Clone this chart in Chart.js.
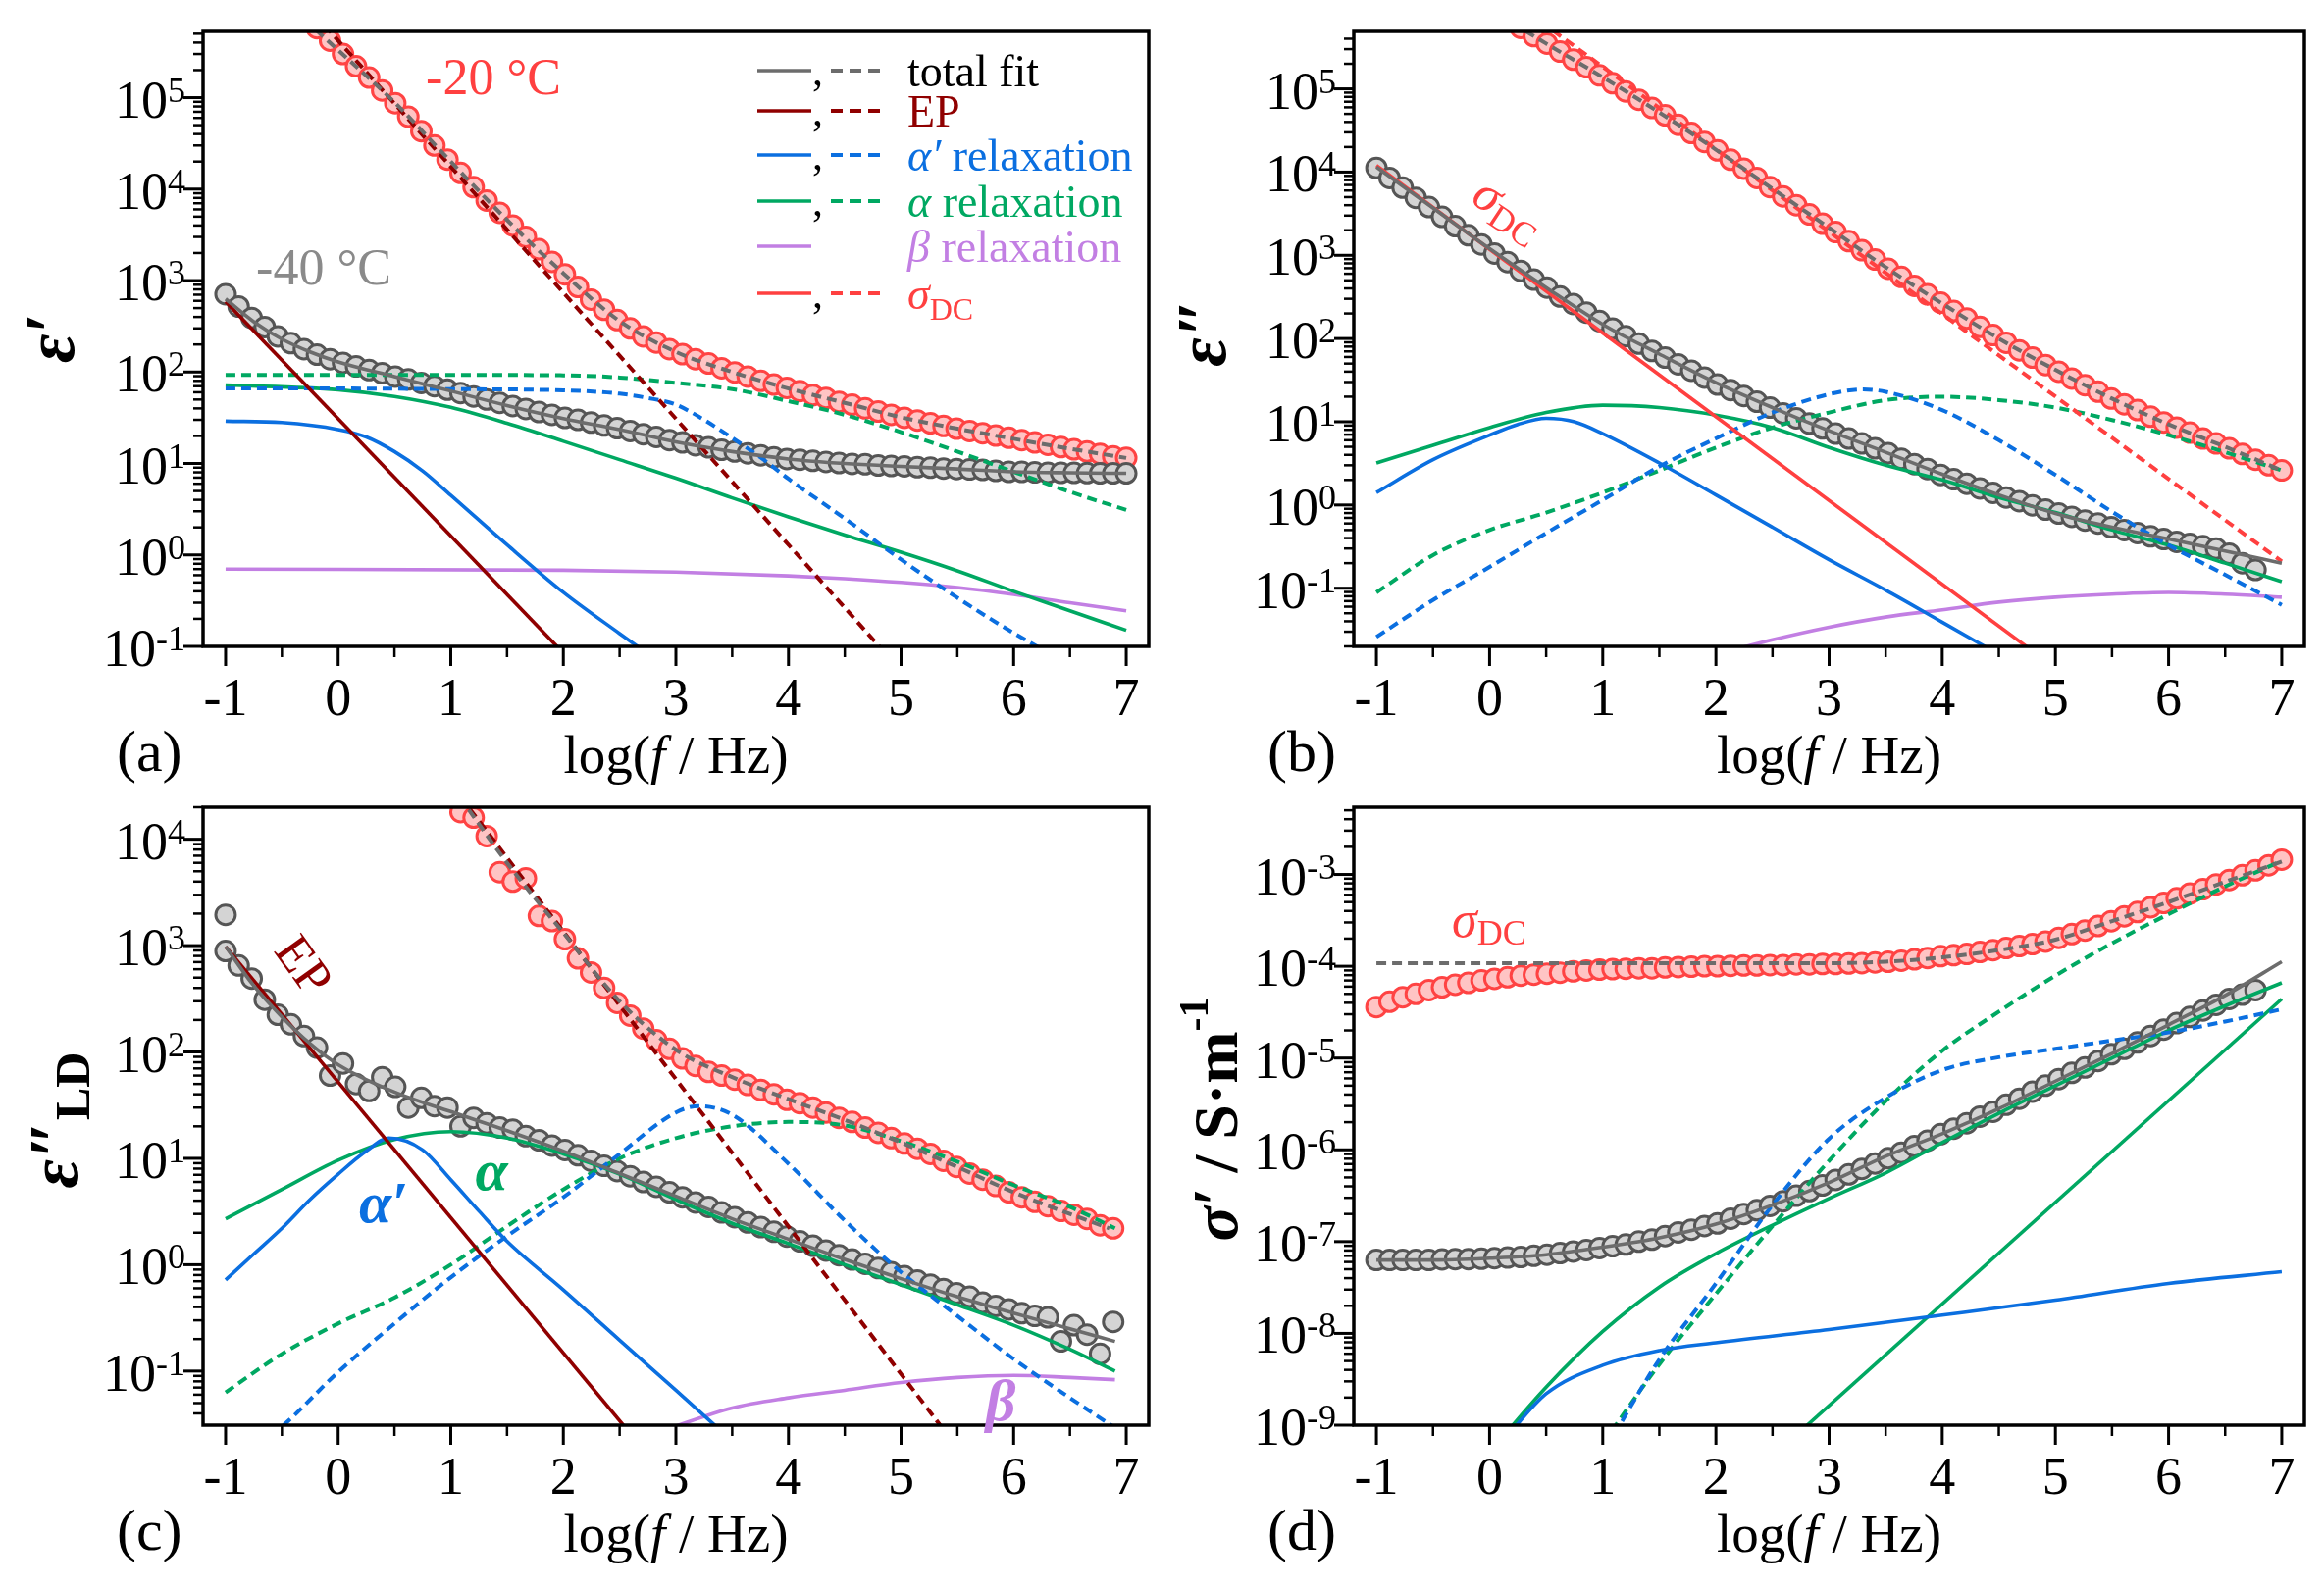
<!DOCTYPE html>
<html>
<head>
<meta charset="utf-8">
<script src="https://cdn.jsdelivr.net/npm/chart.js@4.4.1/dist/chart.umd.min.js"></script>
<style>
  body { margin: 0; background: #fff; width: 2369px; height: 1619px; position: relative; overflow: hidden; }
  canvas { position: absolute; }
</style>
</head>
<body>
<canvas id="pa"></canvas>
<canvas id="pb"></canvas>
<canvas id="pc"></canvas>
<canvas id="pd"></canvas>
<script>
const N = null;

// measured frequency grid, log(f / Hz)
const logF = [-1, -0.884, -0.768, -0.652, -0.536, -0.42, -0.304, -0.188, -0.072, 0.043,
  0.159, 0.275, 0.391, 0.507, 0.623, 0.739, 0.855, 0.971, 1.087, 1.203,
  1.319, 1.435, 1.551, 1.667, 1.783, 1.899, 2.014, 2.13, 2.246, 2.362,
  2.478, 2.594, 2.71, 2.826, 2.942, 3.058, 3.174, 3.29, 3.406, 3.522,
  3.638, 3.754, 3.87, 3.986, 4.101, 4.217, 4.333, 4.449, 4.565, 4.681,
  4.797, 4.913, 5.029, 5.145, 5.261, 5.377, 5.493, 5.609, 5.725, 5.841,
  5.957, 6.072, 6.188, 6.304, 6.42, 6.536, 6.652, 6.768, 6.884, 7];

// (a) eps'  -40 C (grey) and -20 C (red)
const aGray = [710, 520, 390, 310, 245, 207, 178, 155, 138, 126,
  115, 105, 97, 89, 83, 76, 70, 64, 59, 54,
  50, 46, 42.5, 39.5, 36.5, 34, 31.5, 30, 28, 26,
  24.3, 22.6, 20.9, 19.5, 18.0, 17.0, 15.8, 15.0, 14.1, 13.5,
  12.9, 12.3, 11.7, 11.2, 11.0, 10.7, 10.4, 10.1, 9.9, 9.8,
  9.5, 9.4, 9.3, 9.1, 9.0, 8.8, 8.7, 8.6, 8.5, 8.3,
  8.1, 8.1, 8.0, 7.9, 7.9, 7.9, 7.85, 7.8, 7.8, 7.8];
const aRed = [N, N, N, N, N, N, N, 5.75e5, 4.2e5, 3.0e5,
  2.2e5, 1.66e5, 1.2e5, 8.7e4, 6.2e4, 4.3e4, 3.0e4, 2.1e4, 1.5e4, 1.05e4,
  7.5e3, 5.5e3, 4.0e3, 3.0e3, 2.2e3, 1.6e3, 1.17e3, 850, 620, 480,
  370, 300, 245, 210, 178, 157, 138, 124, 110, 99,
  89, 80, 73, 67, 62, 56, 52, 47, 44, 40,
  37, 34, 31.6, 29.5, 27.5, 25.7, 24, 22.6, 21.4, 20.2,
  19.1, 18.0, 17.0, 16.0, 15.1, 14.3, 13.5, 12.7, 12.0, 11.5];
const aFit40 = [[-1, 630], [-0.75, 355], [-0.5, 229], [-0.25, 166], [0, 129], [0.5, 89], [1, 62], [1.5, 43], [2, 31], [2.5, 23.5], [3, 17.2], [3.5, 13.5], [4, 11.2], [4.5, 10], [5, 9.3], [5.5, 8.7], [6, 8.1], [6.5, 7.9], [7, 7.8]];
const aFit20 = [[-0.3, 7.2e5], [0, 3.3e5], [0.5, 8.9e4], [1, 2.0e4], [1.5, 4.6e3], [2, 1.2e3], [2.5, 360], [3, 166], [3.5, 100], [4, 66], [4.5, 46], [5, 32], [5.5, 24], [6, 18.6], [6.5, 14.5], [7, 11.5]];
const aEP40 = [[-1, 590], [2.1, 0.063]];
const aEP20 = [[-0.4, 1.5e6], [5, 0.054]];
const aAp40 = [[-1, 29], [-0.5, 28], [0, 23.5], [0.25, 19.5], [0.5, 13.5], [0.75, 8.3], [1, 4.5], [1.5, 1.29], [2, 0.39], [2.5, 0.138], [3, 0.05]];
const aAp20 = [[-1, 66], [0, 66], [1, 65], [2, 63], [2.5, 58], [2.75, 52], [3, 44], [3.25, 30], [3.5, 19], [3.75, 11.7], [4, 6.8], [4.5, 2.5], [5, 0.89], [5.5, 0.34], [6, 0.14], [6.5, 0.063]];
const aA40 = [[-1, 72], [0, 64], [0.5, 54], [1, 41], [1.5, 27.5], [2, 17.5], [2.5, 11], [3, 6.9], [3.5, 4.2], [4, 2.6], [4.5, 1.65], [5, 1.07], [5.5, 0.67], [6, 0.40], [6.5, 0.245], [7, 0.15]];
const aA20 = [[-1, 93], [1, 93], [2, 92], [2.5, 87], [3, 76], [3.5, 65], [4, 48], [4.5, 34], [5, 22], [5.5, 13.5], [6, 8.1], [6.5, 4.9], [7, 3.1]];
const aB = [[-1, 0.70], [2, 0.68], [3, 0.65], [4, 0.59], [4.5, 0.55], [5, 0.50], [5.5, 0.44], [6, 0.37], [6.5, 0.30], [7, 0.245]];

// (b) eps''
const bGray = [1.12e4, 8.5e3, 6.5e3, 4.9e3, 3.8e3, 2.9e3, 2.24e3, 1.74e3, 1.35e3, 1.05e3,
  830, 650, 510, 410, 320, 260, 205, 162, 132, 107,
  87, 71, 59, 49, 41, 34, 28, 24, 20.4, 17.4,
  14.8, 12.6, 11.0, 9.5, 8.3, 7.2, 6.3, 5.5, 4.8, 4.2,
  3.6, 3.1, 2.7, 2.3, 2.04, 1.8, 1.58, 1.40, 1.23, 1.11,
  0.99, 0.88, 0.79, 0.72, 0.65, 0.60, 0.54, 0.50, 0.46, 0.42,
  0.39, 0.36, 0.34, 0.32, 0.30, 0.26, 0.20, 0.166, N, N];
const bRed = [N, N, N, N, N, N, N, N, N, N,
  N, 5.4e5, 4.3e5, 3.5e5, 2.8e5, 2.24e5, 1.82e5, 1.45e5, 1.17e5, 9.3e4,
  7.4e4, 5.9e4, 4.8e4, 3.7e4, 2.95e4, 2.3e4, 1.82e4, 1.41e4, 1.10e4, 8.5e3,
  6.6e3, 5.1e3, 4.0e3, 3.1e3, 2.4e3, 1.9e3, 1.48e3, 1.15e3, 890, 690,
  550, 430, 340, 270, 214, 174, 138, 110, 89, 72,
  59, 48, 40, 33, 27.5, 23, 19, 16.2, 13.8, 11.5,
  9.8, 8.5, 7.4, 6.3, 5.5, 4.8, 4.1, 3.5, 3.0, 2.6];
const bFit40 = [[-1, 1.15e4], [-0.5, 3.7e3], [0, 1.2e3], [0.5, 410], [1, 148], [1.5, 65], [2, 29.5], [2.5, 14.8], [3, 7.8], [3.5, 4.3], [4, 2.34], [4.5, 1.32], [5, 0.79], [5.5, 0.54], [6, 0.39], [6.5, 0.28], [7, 0.20]];
const bFit20 = [[0.2, 6.2e5], [0.5, 3.5e5], [1, 1.38e5], [1.5, 5.2e4], [2, 1.86e4], [2.5, 6.3e3], [3, 2.14e3], [3.5, 720], [4, 263], [4.5, 100], [5, 42], [5.5, 19], [6, 9.3], [6.5, 5.0], [7, 2.6]];
const bDC40 = [[-1, 1.2e4], [5, 0.011]];
const bDC20 = [[0, 1.8e6], [7, 0.21]];
const bAp40 = [[-1, 1.41], [-0.5, 3.5], [0, 6.9], [0.25, 9.3], [0.5, 11.0], [0.75, 10.0], [1, 7.2], [1.5, 3.2], [2, 1.32], [2.5, 0.54], [3, 0.22], [3.5, 0.095], [4, 0.039], [4.5, 0.016]];
const bAp20 = [[-1, 0.026], [-0.5, 0.072], [0, 0.18], [0.5, 0.46], [1, 1.15], [1.5, 2.9], [2, 6.3], [2.5, 12.9], [3, 21.4], [3.3, 24.5], [3.5, 22.9], [4, 13.8], [4.5, 6.0], [5, 2.3], [5.5, 0.83], [6, 0.33], [6.5, 0.145], [7, 0.063]];
const bA40 = [[-1, 3.2], [-0.5, 5.2], [0, 8.5], [0.5, 12.9], [1, 15.8], [1.5, 14.8], [2, 12.0], [2.5, 8.5], [3, 4.9], [3.5, 3.0], [4, 2.0], [4.5, 1.23], [5, 0.81], [5.5, 0.50], [6, 0.33], [6.5, 0.20], [7, 0.12]];
const bA20 = [[-1, 0.089], [-0.5, 0.25], [0, 0.50], [0.5, 0.81], [1, 1.41], [1.5, 2.6], [2, 4.9], [2.5, 8.5], [3, 12.9], [3.5, 18.2], [4, 20], [4.5, 18.2], [5, 14.8], [5.5, 10.5], [6, 6.9], [6.5, 4.3], [7, 2.6]];
const bB = [[2, 0.016], [2.5, 0.024], [3, 0.034], [3.5, 0.045], [4, 0.055], [4.5, 0.068], [5, 0.078], [5.5, 0.085], [6, 0.089], [6.5, 0.085], [7, 0.078]];

// (c) eps''_LD (derivative spectra)
const cGrayFirst = 1950;
const cGray = [890, 650, 490, 310, 224, 182, 141, 110, 60, 78,
  50, 43, 58, 47, 30, 37, 31, 30, 20, 24,
  21.4, 19.5, 18.6, 16.2, 14.8, 13.2, 12.0, 10.7, 9.5, 8.5,
  7.6, 6.8, 6.0, 5.4, 4.8, 4.3, 3.85, 3.5, 3.1, 2.8,
  2.5, 2.26, 2.04, 1.84, 1.66, 1.51, 1.36, 1.23, 1.12, 1.02,
  0.93, 0.85, 0.78, 0.71, 0.65, 0.59, 0.54, 0.50, 0.44, 0.41,
  0.38, 0.35, 0.33, 0.32, 0.19, 0.27, 0.22, 0.145, 0.29, N];
const cRed = [N, N, N, N, N, N, N, N, N, N,
  N, N, N, N, N, N, N, N, 1.8e4, 1.6e4,
  1.07e4, 4.9e3, 4.0e3, 4.3e3, 1.9e3, 1.7e3, 1.15e3, 760, 560, 400,
  290, 220, 166, 129, 107, 87, 74, 65, 60, 55,
  49, 44, 40, 35.5, 33, 30, 27, 24, 22, 19.5,
  17.4, 15.5, 13.8, 12.3, 11.0, 9.5, 8.3, 7.2, 6.3, 5.5,
  4.8, 4.3, 3.9, 3.55, 3.2, 2.95, 2.7, 2.35, 2.2, N];
const cFit40 = [[-1, 980], [-0.75, 420], [-0.5, 214], [-0.25, 120], [0, 76], [0.5, 42], [1, 27.5], [1.5, 18.2], [2, 11.7], [2.5, 7.2], [3, 4.4], [3.5, 2.7], [4, 1.74], [4.5, 1.12], [5, 0.74], [5.5, 0.50], [6, 0.35], [6.5, 0.25], [6.9, 0.19]];
const cFit20 = [[1.0, 3.3e4], [1.5, 6.0e3], [2, 1.32e3], [2.5, 300], [3, 105], [3.5, 58], [4, 36], [4.5, 23], [5, 14.1], [5.5, 8.3], [6, 4.8], [6.5, 3.0], [6.85, 2.2]];
const cEP40 = [[-1, 980], [2.7, 0.019]];
const cEP20 = [[1.0, 3.3e4], [5.5, 0.019]];
const cAp40 = [[-1, 0.72], [-0.75, 1.26], [-0.5, 2.2], [-0.25, 4.1], [0, 7.1], [0.25, 11.7], [0.45, 15.5], [0.75, 12.0], [1, 6.3], [1.25, 3.2], [1.5, 1.66], [2, 0.58], [2.5, 0.195], [3, 0.066], [3.5, 0.022]];
const cAp20 = [[-0.6, 0.025], [-0.5, 0.030], [0, 0.098], [0.5, 0.28], [1, 0.76], [1.5, 1.86], [2, 4.3], [2.5, 11.0], [3, 27], [3.2, 31], [3.5, 25.7], [4, 8.9], [4.5, 2.6], [5, 0.85], [5.5, 0.33], [6, 0.13], [6.5, 0.056], [7, 0.025]];
const cA40 = [[-1, 2.7], [-0.5, 5.1], [0, 9.6], [0.5, 15], [1, 17.8], [1.5, 15.5], [2, 11.0], [2.5, 7.1], [3, 4.1], [3.5, 2.45], [4, 1.58], [4.5, 1.0], [5, 0.65], [5.5, 0.42], [6, 0.27], [6.5, 0.16], [6.9, 0.10]];
const cA20 = [[-1, 0.063], [-0.5, 0.145], [0, 0.28], [0.5, 0.49], [1, 1.0], [1.5, 2.3], [2, 5.1], [2.5, 10], [3, 15.5], [3.5, 20], [4, 22], [4.5, 20.4], [5, 14.5], [5.5, 9.3], [6, 5.6], [6.5, 3.5], [6.9, 2.2]];
const cB = [[2.9, 0.028], [3.5, 0.045], [4, 0.056], [4.5, 0.066], [5, 0.078], [5.5, 0.087], [6, 0.091], [6.5, 0.087], [6.9, 0.083]];

// (d) sigma' / S m^-1
const dGray = [6.3e-8, 6.3e-8, 6.3e-8, 6.3e-8, 6.3e-8, 6.4e-8, 6.45e-8, 6.45e-8, 6.5e-8, 6.6e-8,
  6.7e-8, 6.8e-8, 7.0e-8, 7.2e-8, 7.5e-8, 7.8e-8, 8.1e-8, 8.5e-8, 8.9e-8, 9.3e-8,
  1.0e-7, 1.05e-7, 1.15e-7, 1.26e-7, 1.35e-7, 1.48e-7, 1.58e-7, 1.78e-7, 2.0e-7, 2.2e-7,
  2.45e-7, 2.75e-7, 3.16e-7, 3.55e-7, 4.1e-7, 4.7e-7, 5.4e-7, 6.2e-7, 7.1e-7, 8.1e-7,
  9.3e-7, 1.10e-6, 1.26e-6, 1.48e-6, 1.70e-6, 1.95e-6, 2.3e-6, 2.6e-6, 3.1e-6, 3.6e-6,
  4.3e-6, 5.0e-6, 5.9e-6, 6.9e-6, 7.9e-6, 9.3e-6, 1.10e-5, 1.26e-5, 1.48e-5, 1.74e-5,
  2.04e-5, 2.4e-5, 2.8e-5, 3.3e-5, 3.8e-5, 4.4e-5, 4.9e-5, 5.5e-5, N, N];
const dRed = [3.6e-5, 4.1e-5, 4.6e-5, 5.0e-5, 5.5e-5, 5.9e-5, 6.3e-5, 6.6e-5, 7.0e-5, 7.3e-5,
  7.6e-5, 7.9e-5, 8.1e-5, 8.3e-5, 8.5e-5, 8.8e-5, 9.0e-5, 9.2e-5, 9.3e-5, 9.4e-5,
  9.5e-5, 9.5e-5, 9.7e-5, 9.8e-5, 9.9e-5, 1.0e-4, 1.0e-4, 1.01e-4, 1.02e-4, 1.02e-4,
  1.03e-4, 1.03e-4, 1.05e-4, 1.05e-4, 1.06e-4, 1.06e-4, 1.07e-4, 1.08e-4, 1.10e-4, 1.12e-4,
  1.15e-4, 1.19e-4, 1.23e-4, 1.29e-4, 1.32e-4, 1.36e-4, 1.43e-4, 1.50e-4, 1.58e-4, 1.66e-4,
  1.74e-4, 1.86e-4, 2.04e-4, 2.24e-4, 2.45e-4, 2.75e-4, 3.1e-4, 3.5e-4, 3.9e-4, 4.4e-4,
  4.9e-4, 5.5e-4, 6.2e-4, 6.9e-4, 7.8e-4, 8.7e-4, 9.8e-4, 1.11e-3, 1.26e-3, 1.45e-3];
const dFit40 = [[-1, 6.3e-8], [-0.5, 6.3e-8], [0, 6.6e-8], [0.5, 7.2e-8], [1, 8.7e-8], [1.5, 1.1e-7], [2, 1.55e-7], [2.5, 2.5e-7], [3, 4.4e-7], [3.5, 8.5e-7], [4, 1.5e-6], [4.5, 2.8e-6], [5, 5.6e-6], [5.5, 1.12e-5], [6, 2.3e-5], [6.5, 4.8e-5], [7, 1.12e-4]];
const dFit20 = [[-1, 1.08e-4], [3, 1.08e-4], [3.5, 1.12e-4], [4, 1.25e-4], [4.5, 1.5e-4], [5, 1.95e-4], [5.5, 3.1e-4], [6, 5.0e-4], [6.5, 8.3e-4], [7, 1.38e-3]];
const dAp40 = [[0.1, 6.3e-10], [0.5, 2.2e-9], [1, 4.5e-9], [1.5, 6.5e-9], [2, 7.9e-9], [3, 1.1e-8], [4, 1.58e-8], [5, 2.3e-8], [6, 3.5e-8], [7, 4.7e-8]];
const dAp20 = [[1.1, 7.9e-10], [1.5, 5.2e-9], [2, 3.5e-8], [2.5, 2.5e-7], [3, 1.32e-6], [3.5, 3.7e-6], [4, 7.4e-6], [4.5, 1.02e-5], [5, 1.26e-5], [5.5, 1.55e-5], [6, 1.9e-5], [6.5, 2.5e-5], [7, 3.4e-5]];
const dA40 = [[0.1, 7.1e-10], [0.5, 2.6e-9], [1, 1.05e-8], [1.5, 3.2e-8], [2, 7.4e-8], [2.5, 1.51e-7], [3, 2.95e-7], [3.5, 5.6e-7], [4, 1.2e-6], [4.5, 2.5e-6], [5, 5.0e-6], [5.5, 1.0e-5], [6, 2.0e-5], [6.5, 3.7e-5], [7, 6.6e-5]];
const dA20 = [[1.0, 6.3e-10], [1.5, 4.6e-9], [2, 2.7e-8], [2.5, 1.48e-7], [3, 7.6e-7], [3.5, 3.4e-6], [4, 1.2e-5], [4.5, 3.2e-5], [5, 7.9e-5], [5.5, 1.78e-4], [6, 3.7e-4], [6.5, 7.4e-4], [7, 1.41e-3]];
const dSteep = [[2.7, 7.6e-10], [7, 4.4e-5]];

// colours
const GREY = '#6c6c6c', DARKRED = '#900000', BLUE = '#0b6fe0', GREEN = '#00a862', VIOLET = '#c27fe3', RED = '#ff4040';
const SERIF = '"Liberation Serif", "Times New Roman", serif';
const font = (size, style = '') => `${style} ${size}px ${SERIF}`.trim();

const onGrid = vals => logF.map((x, i) => ({x, y: vals[i]})).filter(p => p.y != null);
const pairs = arr => arr.map(([x, y]) => ({x, y}));

function dots(data, fill, edge) {
  return {type: 'scatter', data, showLine: false, pointRadius: 10, pointBorderWidth: 3,
    pointBackgroundColor: fill, pointBorderColor: edge, order: 3, clip: 0};
}
function curve(data, color, dashed, order = 1) {
  return {type: 'line', data: pairs(data), borderColor: color, borderWidth: dashed ? 4 : 3.6,
    borderDash: dashed ? [10, 6] : [], pointRadius: 0, cubicInterpolationMode: 'monotone',
    fill: false, order, clip: 0};
}
const greyDots = d => dots(d, '#d4d4d4', '#555555');
const redDots = d => dots(d, '#ffc4c4', '#ff4343');

// draw a run of text pieces: [text, font, dy]
function txt(ctx, x, y, parts, align) {
  ctx.textAlign = 'left';
  let w = 0;
  for (const p of parts) { ctx.font = p[1]; w += ctx.measureText(p[0]).width; }
  let cx = align === 'center' ? x - w / 2 : align === 'right' ? x - w : x;
  for (const p of parts) {
    ctx.font = p[1];
    ctx.fillText(p[0], cx, y + (p[2] || 0));
    cx += ctx.measureText(p[0]).width;
  }
}
function seg(ctx, x1, y1, x2, y2) {
  ctx.beginPath(); ctx.moveTo(x1, y1); ctx.lineTo(x2, y2); ctx.stroke();
}
function rotated(ctx, x, y, ang, fn) {
  ctx.save(); ctx.translate(x, y); ctx.rotate(ang); fn(); ctx.restore();
}

const panelLabel = {pa: '(a)', pb: '(b)', pc: '(c)', pd: '(d)'};

const extras = {
  pa(ctx) {
    ctx.fillStyle = '#000'; ctx.textBaseline = 'middle';
    rotated(ctx, 56, 345, -Math.PI / 2, () => txt(ctx, 0, 0, [['ε′', font(72, 'bold italic')]], 'center'));
    ctx.fillStyle = RED; txt(ctx, 503, 82, [['-20 °C', font(52)]], 'center');
    ctx.fillStyle = '#8a8a8a'; txt(ctx, 330, 276, [['-40 °C', font(52)]], 'center');
    // legend
    const rows = [
      [GREY, true, '#000', [['total fit', font(46)]]],
      [DARKRED, true, DARKRED, [['EP', font(46)]]],
      [BLUE, true, BLUE, [['α′', font(46, 'italic')], [' relaxation', font(46)]]],
      [GREEN, true, GREEN, [['α', font(46, 'italic')], [' relaxation', font(46)]]],
      [VIOLET, false, VIOLET, [['β', font(46, 'italic')], [' relaxation', font(46)]]],
      [RED, true, RED, [['σ', font(46, 'italic')], ['DC', font(32), 11]]]
    ];
    const ys = [72, 113, 158, 205, 251, 299];
    rows.forEach(([c, dashed, tc, parts], i) => {
      const y = ys[i];
      ctx.strokeStyle = c; ctx.lineWidth = 3.6; ctx.setLineDash([]);
      seg(ctx, 772, y, 827, y);
      if (dashed) {
        ctx.fillStyle = '#000'; ctx.textBaseline = 'alphabetic';
        txt(ctx, 828, y + 15, [[',', font(44)]], 'left');
        ctx.lineWidth = 4; ctx.setLineDash([12, 7]);
        seg(ctx, 847, y, 897, y);
        ctx.setLineDash([]);
      }
      ctx.fillStyle = tc; ctx.textBaseline = 'alphabetic';
      txt(ctx, 925, y + 16, parts, 'left');
    });
  },
  pb(ctx) {
    ctx.fillStyle = '#000'; ctx.textBaseline = 'middle';
    rotated(ctx, 46, 339, -Math.PI / 2, () => txt(ctx, 0, 0, [['ε″', font(72, 'bold italic')]], 'center'));
    ctx.fillStyle = RED;
    rotated(ctx, 321, 194, 0.58, () => txt(ctx, 0, 0, [['σ', font(52, 'italic')], ['DC', font(36), 13]], 'left'));
  },
  pc(ctx) {
    ctx.fillStyle = '#000'; ctx.textBaseline = 'middle';
    rotated(ctx, 60, 332, -Math.PI / 2, () => txt(ctx, 0, 0, [['ε″', font(72, 'bold italic')], ['LD', font(50, 'bold'), 18]], 'center'));
    ctx.fillStyle = DARKRED;
    rotated(ctx, 307, 176, 0.95, () => txt(ctx, 0, 0, [['EP', font(52)]], 'center'));
    ctx.fillStyle = BLUE; txt(ctx, 391, 420, [['α′', font(60, 'bold italic')]], 'center');
    ctx.fillStyle = GREEN; txt(ctx, 501, 387, [['α', font(60, 'bold italic')]], 'center');
    ctx.fillStyle = VIOLET; txt(ctx, 1020, 622, [['β', font(60, 'bold italic')]], 'center');
  },
  pd(ctx) {
    ctx.fillStyle = '#000'; ctx.textBaseline = 'middle';
    rotated(ctx, 60, 331, -Math.PI / 2, () => txt(ctx, 0, 0,
      [['σ′', font(66, 'bold italic')], [' / S·m', font(64, 'bold')], ['-1', font(42, 'bold'), -24]], 'center'));
    ctx.fillStyle = RED;
    txt(ctx, 296, 131, [['σ', font(52, 'italic')], ['DC', font(36), 13]], 'left');
  }
};

const axesPlugin = {
  id: 'axes',
  afterDraw(chart) {
    const {ctx, chartArea: a} = chart;
    const x = chart.scales.x, y = chart.scales.y;
    ctx.save();
    ctx.strokeStyle = '#000'; ctx.fillStyle = '#000'; ctx.setLineDash([]);
    const n0 = Math.floor(Math.log10(y.min)), n1 = Math.ceil(Math.log10(y.max));
    for (let n = n0; n <= n1; n++) {
      for (let k = 1; k <= 9; k++) {
        const v = k * Math.pow(10, n);
        if (v < y.min * 0.999 || v > y.max * 1.001) continue;
        const py = y.getPixelForValue(v);
        ctx.lineWidth = k === 1 ? 3 : 2.5;
        seg(ctx, a.left - (k === 1 ? 20 : 10), py, a.left, py);
        if (k === 1) {
          ctx.textBaseline = 'alphabetic';
          txt(ctx, a.left - 18, py + 20, [['10', font(54)], [String(n), font(36), -16]], 'right');
        }
      }
    }
    for (let v = -1; v <= 7; v += 0.5) {
      const px = x.getPixelForValue(v), major = Number.isInteger(v);
      ctx.lineWidth = major ? 3 : 2.5;
      seg(ctx, px, a.bottom, px, a.bottom + (major ? 20 : 11));
      if (major) {
        ctx.textBaseline = 'middle';
        txt(ctx, px, a.bottom + 56, [[String(v), font(54)]], 'center');
      }
    }
    ctx.lineWidth = 3.5;
    ctx.strokeRect(a.left, a.top, a.right - a.left, a.bottom - a.top);
    ctx.textBaseline = 'middle';
    txt(ctx, (a.left + a.right) / 2, a.bottom + 115,
      [['log(', font(55)], ['f', font(55, 'italic')], [' / Hz)', font(55)]], 'center');
    txt(ctx, a.left - 88, a.bottom + 111, [[panelLabel[chart.canvas.id], font(60)]], 'left');
    extras[chart.canvas.id](ctx);
    ctx.restore();
  }
};

function makePanel(id, box, area, yMin, yMax, datasets) {
  const cv = document.getElementById(id);
  cv.width = box.w; cv.height = box.h;
  cv.style.left = box.x + 'px'; cv.style.top = box.y + 'px';
  new Chart(cv, {
    type: 'scatter',
    data: {datasets},
    options: {
      responsive: false, animation: false, devicePixelRatio: 1, events: [],
      layout: {padding: {left: area.l - box.x, right: box.x + box.w - area.r,
        top: area.t - box.y, bottom: box.y + box.h - area.b}},
      plugins: {legend: {display: false}, tooltip: {enabled: false}},
      scales: {
        x: {type: 'linear', min: -1.2, max: 7.2, display: false},
        y: {type: 'logarithmic', min: yMin, max: yMax, display: false}
      }
    },
    plugins: [axesPlugin]
  });
}

makePanel('pa', {x: 0, y: 0, w: 1184, h: 810}, {l: 207, r: 1173, t: 32, b: 659}, 0.1, 5.3e5, [
  curve(aFit40, GREY, false, 0), curve(aFit20, GREY, true, 0),
  curve(aEP40, DARKRED, false), curve(aEP20, DARKRED, true),
  curve(aAp40, BLUE, false), curve(aAp20, BLUE, true),
  curve(aA40, GREEN, false), curve(aA20, GREEN, true),
  curve(aB, VIOLET, false),
  greyDots(onGrid(aGray)), redDots(onGrid(aRed))
]);

makePanel('pb', {x: 1184, y: 0, w: 1185, h: 810}, {l: 1380, r: 2349, t: 32, b: 659}, 0.02, 4.9e5, [
  curve(bFit40, GREY, false, 0), curve(bFit20, GREY, true, 0),
  curve(bDC40, RED, false), curve(bDC20, RED, true),
  curve(bAp40, BLUE, false), curve(bAp20, BLUE, true),
  curve(bA40, GREEN, false), curve(bA20, GREEN, true),
  curve(bB, VIOLET, false),
  greyDots(onGrid(bGray)), redDots(onGrid(bRed))
]);

makePanel('pc', {x: 0, y: 810, w: 1184, h: 809}, {l: 207, r: 1173, t: 823, b: 1453}, 0.031, 2.0e4, [
  curve(cFit40, GREY, false, 0), curve(cFit20, GREY, true, 0),
  curve(cEP40, DARKRED, false), curve(cEP20, DARKRED, true),
  curve(cAp40, BLUE, false), curve(cAp20, BLUE, true),
  curve(cA40, GREEN, false), curve(cA20, GREEN, true),
  curve(cB, VIOLET, false),
  greyDots([{x: logF[0], y: cGrayFirst}, ...onGrid(cGray)]), redDots(onGrid(cRed))
]);

makePanel('pd', {x: 1184, y: 810, w: 1185, h: 809}, {l: 1380, r: 2349, t: 823, b: 1453}, 1e-9, 5.4e-3, [
  curve(dFit40, GREY, false, 0), curve(dFit20, GREY, true, 0),
  curve(dAp40, BLUE, false), curve(dAp20, BLUE, true),
  curve(dA40, GREEN, false), curve(dA20, GREEN, true),
  curve(dSteep, GREEN, false),
  greyDots(onGrid(dGray)), redDots(onGrid(dRed))
]);
</script>
</body>
</html>
